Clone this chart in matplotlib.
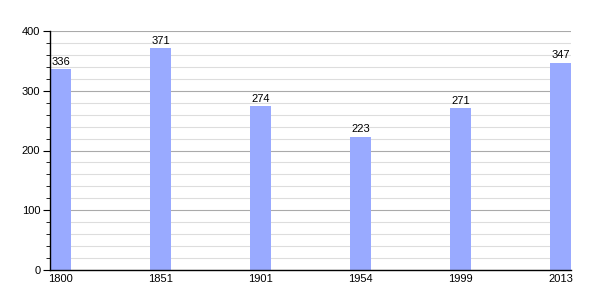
import matplotlib.pyplot as plt
from matplotlib.ticker import MultipleLocator

plt.rcParams['font.family'] = ['Liberation Sans', 'DejaVu Sans']

years = ['1800', '1851', '1901', '1954', '1999', '2013']
population = [336, 371, 274, 223, 271, 347]

fig = plt.figure(figsize=(6, 3), dpi=100)
ax = fig.add_axes([50 / 600, 30 / 300, 521 / 600, 239 / 300])

w = 0.21
pos = list(range(len(years)))
bars = ax.bar(pos, population, width=w, align='edge', color='#99aaff', zorder=2)
for b, v in zip(bars, population):
    ax.text(b.get_x() + w / 2, v + 4, str(v), ha='center', va='bottom', fontsize=8)

ax.set_xlim(0, len(years) - 1 + w)
ax.set_ylim(0, 400)
ax.set_xticks([p + w / 2 for p in pos])
ax.set_xticklabels(years)
ax.yaxis.set_major_locator(MultipleLocator(100))
ax.yaxis.set_minor_locator(MultipleLocator(20))
ax.grid(axis='y', which='major', color='#aaaaaa', linewidth=0.8, zorder=0)
ax.grid(axis='y', which='minor', color='#dddddd', linewidth=0.8, zorder=0)
ax.set_axisbelow(True)

ax.spines['top'].set_visible(False)
ax.spines['right'].set_visible(False)
ax.spines['left'].set_linewidth(1)
ax.spines['bottom'].set_linewidth(1)
ax.tick_params(axis='y', which='major', length=5, labelsize=8, pad=2)
ax.tick_params(axis='y', which='minor', length=3)
ax.tick_params(axis='x', length=0, labelsize=8, pad=3)

fig.savefig('out.png')
